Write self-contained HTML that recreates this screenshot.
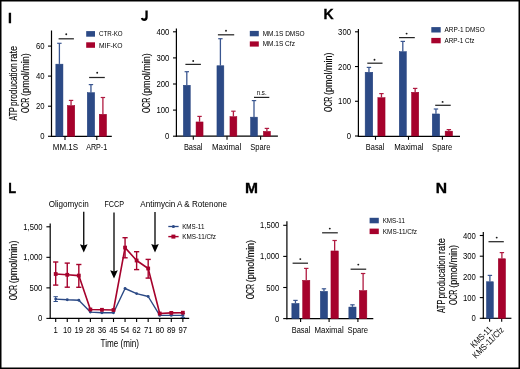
<!DOCTYPE html>
<html><head><meta charset="utf-8"><style>
html,body{margin:0;padding:0;background:#fff;}
svg{display:block;font-family:"Liberation Sans", sans-serif;will-change:transform;}

</style></head><body>
<svg width="520" height="369" viewBox="0 0 520 369">
<rect width="520" height="369" fill="#fff"/>
<text x="8.1" y="23" font-size="14" stroke="#000" stroke-width="0.3" fill="#000" font-weight="bold">I</text>
<line x1="51.5" y1="30.5" x2="51.5" y2="136.9" stroke="#000" stroke-width="1.2"/>
<line x1="48" y1="136.3" x2="51.5" y2="136.3" stroke="#000" stroke-width="1.1"/>
<text x="44.6" y="139.3" font-size="8.8" text-anchor="end" textLength="4.3" lengthAdjust="spacingAndGlyphs">0</text>
<line x1="48" y1="106.2" x2="51.5" y2="106.2" stroke="#000" stroke-width="1.1"/>
<text x="44.6" y="109.2" font-size="8.8" text-anchor="end" textLength="8.6" lengthAdjust="spacingAndGlyphs">20</text>
<line x1="48" y1="76.1" x2="51.5" y2="76.1" stroke="#000" stroke-width="1.1"/>
<text x="44.6" y="79.1" font-size="8.8" text-anchor="end" textLength="8.6" lengthAdjust="spacingAndGlyphs">40</text>
<line x1="48" y1="46.1" x2="51.5" y2="46.1" stroke="#000" stroke-width="1.1"/>
<text x="44.6" y="49.1" font-size="8.8" text-anchor="end" textLength="8.6" lengthAdjust="spacingAndGlyphs">60</text>
<line x1="50.9" y1="136.3" x2="111.8" y2="136.3" stroke="#000" stroke-width="1.2"/>
<line x1="65" y1="136.3" x2="65" y2="140" stroke="#000" stroke-width="1.1"/>
<line x1="96.8" y1="136.3" x2="96.8" y2="140" stroke="#000" stroke-width="1.1"/>
<text x="65.4" y="150.1" font-size="8.7" text-anchor="middle" textLength="25.2" lengthAdjust="spacingAndGlyphs">MM.1S</text>
<text x="96.7" y="150.1" font-size="8.7" text-anchor="middle" textLength="21" lengthAdjust="spacingAndGlyphs">ARP-1</text>
<line x1="59.4" y1="43.3" x2="59.4" y2="63.9" stroke="#3a5690" stroke-width="1.3"/>
<line x1="57.2" y1="43.3" x2="61.6" y2="43.3" stroke="#3a5690" stroke-width="1.2"/>
<rect x="55.85" y="64.15" width="7.1" height="72.15" fill="#2c4a86" stroke="#213f7c" stroke-width="0.5"/>
<line x1="71.05" y1="100.4" x2="71.05" y2="105.3" stroke="#b01a40" stroke-width="1.3"/>
<line x1="68.85" y1="100.4" x2="73.25" y2="100.4" stroke="#b01a40" stroke-width="1.2"/>
<rect x="67.35" y="105.55" width="7.4" height="30.75" fill="#a6022c" stroke="#9a0028" stroke-width="0.5"/>
<line x1="90.95" y1="84.6" x2="90.95" y2="92.4" stroke="#3a5690" stroke-width="1.3"/>
<line x1="88.75" y1="84.6" x2="93.15" y2="84.6" stroke="#3a5690" stroke-width="1.2"/>
<rect x="87.25" y="92.65" width="7.4" height="43.65" fill="#2c4a86" stroke="#213f7c" stroke-width="0.5"/>
<line x1="102.9" y1="97.5" x2="102.9" y2="114" stroke="#b01a40" stroke-width="1.3"/>
<line x1="100.7" y1="97.5" x2="105.1" y2="97.5" stroke="#b01a40" stroke-width="1.2"/>
<rect x="99.25" y="114.25" width="7.3" height="22.05" fill="#a6022c" stroke="#9a0028" stroke-width="0.5"/>
<line x1="58.6" y1="38.8" x2="73.9" y2="38.8" stroke="#262626" stroke-width="1.25"/>
<circle cx="66.25" cy="34.2" r="0.95" fill="#1a1a1a"/>
<line x1="89.1" y1="77.5" x2="104.8" y2="77.5" stroke="#262626" stroke-width="1.25"/>
<circle cx="97.2" cy="72.7" r="0.95" fill="#1a1a1a"/>
<rect x="86.2" y="31.1" width="8.8" height="5.6" fill="#2c4a86"/>
<rect x="86.2" y="42.3" width="8.8" height="5.5" fill="#a6022c"/>
<text x="99" y="36.2" font-size="6.9" textLength="23.6" lengthAdjust="spacingAndGlyphs">CTR-KO</text>
<text x="99" y="47.6" font-size="6.9" textLength="23.6" lengthAdjust="spacingAndGlyphs">MIF-KO</text>
<text x="17" y="120.5" font-size="10.4" stroke="#1e1e1e" stroke-width="0.15" textLength="13.2" lengthAdjust="spacingAndGlyphs" transform="rotate(-90 17 120.5)">ATP</text>
<text x="17" y="106" font-size="10.4" stroke="#1e1e1e" stroke-width="0.15" textLength="42.8" lengthAdjust="spacingAndGlyphs" transform="rotate(-90 17 106)">producation</text>
<text x="17" y="61.8" font-size="10.4" stroke="#1e1e1e" stroke-width="0.15" textLength="16" lengthAdjust="spacingAndGlyphs" transform="rotate(-90 17 61.8)">rate</text>
<text x="29.4" y="113" font-size="10.4" stroke="#1e1e1e" stroke-width="0.15" textLength="15.3" lengthAdjust="spacingAndGlyphs" transform="rotate(-90 29.4 113)">OCR</text>
<text x="29.4" y="95.9" font-size="10.4" stroke="#1e1e1e" stroke-width="0.15" textLength="42.8" lengthAdjust="spacingAndGlyphs" transform="rotate(-90 29.4 95.9)">(pmol/min)</text>
<path d="M146.55,10.6 V17.0 Q146.55,19.75 144.0,19.75 Q142.3,19.75 141.9,18.0" fill="none" stroke="#000" stroke-width="2.3"/>
<line x1="176.4" y1="28.6" x2="176.4" y2="136.8" stroke="#000" stroke-width="1.2"/>
<line x1="173" y1="136.2" x2="176.4" y2="136.2" stroke="#000" stroke-width="1.1"/>
<text x="169.4" y="139.2" font-size="8.8" text-anchor="end" textLength="4.3" lengthAdjust="spacingAndGlyphs">0</text>
<line x1="173" y1="110.1" x2="176.4" y2="110.1" stroke="#000" stroke-width="1.1"/>
<text x="169.4" y="113.1" font-size="8.8" text-anchor="end" textLength="12.9" lengthAdjust="spacingAndGlyphs">100</text>
<line x1="173" y1="84" x2="176.4" y2="84" stroke="#000" stroke-width="1.1"/>
<text x="169.4" y="87" font-size="8.8" text-anchor="end" textLength="12.9" lengthAdjust="spacingAndGlyphs">200</text>
<line x1="173" y1="57.9" x2="176.4" y2="57.9" stroke="#000" stroke-width="1.1"/>
<text x="169.4" y="60.9" font-size="8.8" text-anchor="end" textLength="12.9" lengthAdjust="spacingAndGlyphs">300</text>
<line x1="173" y1="31.8" x2="176.4" y2="31.8" stroke="#000" stroke-width="1.1"/>
<text x="169.4" y="34.8" font-size="8.8" text-anchor="end" textLength="12.9" lengthAdjust="spacingAndGlyphs">400</text>
<line x1="175.8" y1="136.2" x2="277.9" y2="136.2" stroke="#000" stroke-width="1.2"/>
<line x1="193.3" y1="136.2" x2="193.3" y2="139.8" stroke="#000" stroke-width="1.1"/>
<line x1="227" y1="136.2" x2="227" y2="139.8" stroke="#000" stroke-width="1.1"/>
<line x1="260.6" y1="136.2" x2="260.6" y2="139.8" stroke="#000" stroke-width="1.1"/>
<text x="193.2" y="150" font-size="8.7" text-anchor="middle" textLength="18.6" lengthAdjust="spacingAndGlyphs">Basal</text>
<text x="226.6" y="150" font-size="8.7" text-anchor="middle" textLength="29.2" lengthAdjust="spacingAndGlyphs">Maximal</text>
<text x="260.4" y="150" font-size="8.7" text-anchor="middle" textLength="20.2" lengthAdjust="spacingAndGlyphs">Spare</text>
<line x1="186.8" y1="71.7" x2="186.8" y2="85" stroke="#3a5690" stroke-width="1.3"/>
<line x1="184.6" y1="71.7" x2="189" y2="71.7" stroke="#3a5690" stroke-width="1.2"/>
<rect x="183.35" y="85.25" width="6.9" height="50.95" fill="#2c4a86" stroke="#213f7c" stroke-width="0.5"/>
<line x1="199.55" y1="116.4" x2="199.55" y2="121.7" stroke="#b01a40" stroke-width="1.3"/>
<line x1="197.35" y1="116.4" x2="201.75" y2="116.4" stroke="#b01a40" stroke-width="1.2"/>
<rect x="196.05" y="121.95" width="7" height="14.25" fill="#a6022c" stroke="#9a0028" stroke-width="0.5"/>
<line x1="220.4" y1="38.7" x2="220.4" y2="65.5" stroke="#3a5690" stroke-width="1.3"/>
<line x1="218.2" y1="38.7" x2="222.6" y2="38.7" stroke="#3a5690" stroke-width="1.2"/>
<rect x="216.95" y="65.75" width="6.9" height="70.45" fill="#2c4a86" stroke="#213f7c" stroke-width="0.5"/>
<line x1="233.4" y1="111.2" x2="233.4" y2="116.4" stroke="#b01a40" stroke-width="1.3"/>
<line x1="231.2" y1="111.2" x2="235.6" y2="111.2" stroke="#b01a40" stroke-width="1.2"/>
<rect x="229.95" y="116.65" width="6.9" height="19.55" fill="#a6022c" stroke="#9a0028" stroke-width="0.5"/>
<line x1="254" y1="100.6" x2="254" y2="116.9" stroke="#3a5690" stroke-width="1.3"/>
<line x1="251.8" y1="100.6" x2="256.2" y2="100.6" stroke="#3a5690" stroke-width="1.2"/>
<rect x="250.55" y="117.15" width="6.9" height="19.05" fill="#2c4a86" stroke="#213f7c" stroke-width="0.5"/>
<line x1="266.9" y1="128.4" x2="266.9" y2="131.1" stroke="#b01a40" stroke-width="1.3"/>
<line x1="264.7" y1="128.4" x2="269.1" y2="128.4" stroke="#b01a40" stroke-width="1.2"/>
<rect x="263.35" y="131.35" width="7.1" height="4.85" fill="#a6022c" stroke="#9a0028" stroke-width="0.5"/>
<line x1="185.4" y1="64.4" x2="200.9" y2="64.4" stroke="#262626" stroke-width="1.25"/>
<circle cx="193.2" cy="61" r="0.95" fill="#1a1a1a"/>
<line x1="217.9" y1="34.8" x2="234.2" y2="34.8" stroke="#262626" stroke-width="1.25"/>
<circle cx="226" cy="30.8" r="0.95" fill="#1a1a1a"/>
<line x1="254" y1="97.4" x2="269.3" y2="97.4" stroke="#222" stroke-width="1.2"/>
<text x="261.7" y="94.6" font-size="7.2" text-anchor="middle" textLength="9.8" lengthAdjust="spacingAndGlyphs">n.s.</text>
<rect x="249.8" y="30.9" width="9" height="5.4" fill="#2c4a86"/>
<rect x="249.8" y="41.4" width="9" height="5.2" fill="#a6022c"/>
<text x="262.7" y="35.7" font-size="6.9" textLength="42" lengthAdjust="spacingAndGlyphs">MM.1S DMSO</text>
<text x="262.7" y="46.3" font-size="6.9" textLength="32.2" lengthAdjust="spacingAndGlyphs">MM.1S Cfz</text>
<text x="150.3" y="113" font-size="10.4" stroke="#1e1e1e" stroke-width="0.15" textLength="15.28" lengthAdjust="spacingAndGlyphs" transform="rotate(-90 150.3 113)">OCR</text>
<text x="150.3" y="95.93" font-size="10.4" stroke="#1e1e1e" stroke-width="0.15" textLength="42.73" lengthAdjust="spacingAndGlyphs" transform="rotate(-90 150.3 95.93)">(pmol/min)</text>
<text x="323.6" y="18.6" font-size="14" stroke="#000" stroke-width="0.35" fill="#000" font-weight="bold">K</text>
<line x1="358.4" y1="29" x2="358.4" y2="136.6" stroke="#000" stroke-width="1.2"/>
<line x1="355" y1="136" x2="358.4" y2="136" stroke="#000" stroke-width="1.1"/>
<text x="351" y="139" font-size="8.8" text-anchor="end" textLength="4.3" lengthAdjust="spacingAndGlyphs">0</text>
<line x1="355" y1="101.27" x2="358.4" y2="101.27" stroke="#000" stroke-width="1.1"/>
<text x="351" y="104.27" font-size="8.8" text-anchor="end" textLength="12.9" lengthAdjust="spacingAndGlyphs">100</text>
<line x1="355" y1="66.54" x2="358.4" y2="66.54" stroke="#000" stroke-width="1.1"/>
<text x="351" y="69.54" font-size="8.8" text-anchor="end" textLength="12.9" lengthAdjust="spacingAndGlyphs">200</text>
<line x1="355" y1="31.81" x2="358.4" y2="31.81" stroke="#000" stroke-width="1.1"/>
<text x="351" y="34.81" font-size="8.8" text-anchor="end" textLength="12.9" lengthAdjust="spacingAndGlyphs">300</text>
<line x1="357.8" y1="136.3" x2="460" y2="136.3" stroke="#000" stroke-width="1.2"/>
<line x1="375.5" y1="136" x2="375.5" y2="139.8" stroke="#000" stroke-width="1.1"/>
<line x1="408.5" y1="136" x2="408.5" y2="139.8" stroke="#000" stroke-width="1.1"/>
<line x1="442.4" y1="136" x2="442.4" y2="139.8" stroke="#000" stroke-width="1.1"/>
<text x="375.1" y="150" font-size="8.7" text-anchor="middle" textLength="18.6" lengthAdjust="spacingAndGlyphs">Basal</text>
<text x="408.9" y="150" font-size="8.7" text-anchor="middle" textLength="29.2" lengthAdjust="spacingAndGlyphs">Maximal</text>
<text x="442.2" y="150" font-size="8.7" text-anchor="middle" textLength="20.2" lengthAdjust="spacingAndGlyphs">Spare</text>
<line x1="368.95" y1="67.4" x2="368.95" y2="72" stroke="#3a5690" stroke-width="1.3"/>
<line x1="366.75" y1="67.4" x2="371.15" y2="67.4" stroke="#3a5690" stroke-width="1.2"/>
<rect x="365.15" y="72.25" width="7.6" height="63.75" fill="#2c4a86" stroke="#213f7c" stroke-width="0.5"/>
<line x1="381.45" y1="93.6" x2="381.45" y2="97.4" stroke="#b01a40" stroke-width="1.3"/>
<line x1="379.25" y1="93.6" x2="383.65" y2="93.6" stroke="#b01a40" stroke-width="1.2"/>
<rect x="377.85" y="97.65" width="7.2" height="38.35" fill="#a6022c" stroke="#9a0028" stroke-width="0.5"/>
<line x1="402.8" y1="41.4" x2="402.8" y2="51.4" stroke="#3a5690" stroke-width="1.3"/>
<line x1="400.6" y1="41.4" x2="405" y2="41.4" stroke="#3a5690" stroke-width="1.2"/>
<rect x="399.25" y="51.65" width="7.1" height="84.35" fill="#2c4a86" stroke="#213f7c" stroke-width="0.5"/>
<line x1="415.15" y1="88.4" x2="415.15" y2="92" stroke="#b01a40" stroke-width="1.3"/>
<line x1="412.95" y1="88.4" x2="417.35" y2="88.4" stroke="#b01a40" stroke-width="1.2"/>
<rect x="411.55" y="92.25" width="7.2" height="43.75" fill="#a6022c" stroke="#9a0028" stroke-width="0.5"/>
<line x1="435.95" y1="109" x2="435.95" y2="113.7" stroke="#3a5690" stroke-width="1.3"/>
<line x1="433.75" y1="109" x2="438.15" y2="109" stroke="#3a5690" stroke-width="1.2"/>
<rect x="432.25" y="113.95" width="7.4" height="22.05" fill="#2c4a86" stroke="#213f7c" stroke-width="0.5"/>
<line x1="448.85" y1="129.6" x2="448.85" y2="130.9" stroke="#b01a40" stroke-width="1.3"/>
<line x1="446.65" y1="129.6" x2="451.05" y2="129.6" stroke="#b01a40" stroke-width="1.2"/>
<rect x="445.15" y="131.15" width="7.4" height="4.85" fill="#a6022c" stroke="#9a0028" stroke-width="0.5"/>
<line x1="367.3" y1="63.2" x2="382.5" y2="63.2" stroke="#262626" stroke-width="1.25"/>
<circle cx="374.5" cy="59.8" r="0.95" fill="#1a1a1a"/>
<line x1="399" y1="37.6" x2="414.8" y2="37.6" stroke="#262626" stroke-width="1.25"/>
<circle cx="406.6" cy="33.6" r="0.95" fill="#1a1a1a"/>
<line x1="435.2" y1="105.3" x2="450.7" y2="105.3" stroke="#262626" stroke-width="1.25"/>
<circle cx="442.6" cy="101.9" r="0.95" fill="#1a1a1a"/>
<rect x="431.3" y="27.1" width="9.4" height="5.4" fill="#2c4a86"/>
<rect x="431.3" y="37.9" width="9.4" height="5.4" fill="#a6022c"/>
<text x="444.5" y="32.1" font-size="6.9" textLength="40.2" lengthAdjust="spacingAndGlyphs">ARP-1 DMSO</text>
<text x="444.5" y="42.9" font-size="6.9" textLength="30" lengthAdjust="spacingAndGlyphs">ARP-1 Cfz</text>
<text x="332.3" y="111.9" font-size="10.4" stroke="#1e1e1e" stroke-width="0.15" textLength="15.15" lengthAdjust="spacingAndGlyphs" transform="rotate(-90 332.3 111.9)">OCR</text>
<text x="332.3" y="94.97" font-size="10.4" stroke="#1e1e1e" stroke-width="0.15" textLength="42.37" lengthAdjust="spacingAndGlyphs" transform="rotate(-90 332.3 94.97)">(pmol/min)</text>
<text x="8.2" y="192.9" font-size="14" stroke="#000" stroke-width="0.3" fill="#000" font-weight="bold" textLength="7.9" lengthAdjust="spacingAndGlyphs">L</text>
<line x1="50.2" y1="223.4" x2="50.2" y2="319" stroke="#000" stroke-width="1.2"/>
<line x1="46.4" y1="318.4" x2="50.2" y2="318.4" stroke="#000" stroke-width="1.1"/>
<text x="42.4" y="321.4" font-size="8.8" text-anchor="end" textLength="4.3" lengthAdjust="spacingAndGlyphs">0</text>
<line x1="46.4" y1="287.87" x2="50.2" y2="287.87" stroke="#000" stroke-width="1.1"/>
<text x="42.4" y="290.87" font-size="8.8" text-anchor="end" textLength="12.9" lengthAdjust="spacingAndGlyphs">500</text>
<line x1="46.4" y1="257.33" x2="50.2" y2="257.33" stroke="#000" stroke-width="1.1"/>
<text x="42.4" y="260.33" font-size="8.8" text-anchor="end" textLength="19.1" lengthAdjust="spacingAndGlyphs">1,000</text>
<line x1="46.4" y1="226.8" x2="50.2" y2="226.8" stroke="#000" stroke-width="1.1"/>
<text x="42.4" y="229.8" font-size="8.8" text-anchor="end" textLength="19.1" lengthAdjust="spacingAndGlyphs">1,500</text>
<line x1="49.6" y1="318.4" x2="189.2" y2="318.4" stroke="#000" stroke-width="1.2"/>
<line x1="55.7" y1="318.4" x2="55.7" y2="322" stroke="#000" stroke-width="1.1"/>
<text x="55.7" y="332.8" font-size="8.8" text-anchor="middle" textLength="4.3" lengthAdjust="spacingAndGlyphs">1</text>
<line x1="67.26" y1="318.4" x2="67.26" y2="322" stroke="#000" stroke-width="1.1"/>
<text x="67.26" y="332.8" font-size="8.8" text-anchor="middle" textLength="8.6" lengthAdjust="spacingAndGlyphs">10</text>
<line x1="78.82" y1="318.4" x2="78.82" y2="322" stroke="#000" stroke-width="1.1"/>
<text x="78.82" y="332.8" font-size="8.8" text-anchor="middle" textLength="8.6" lengthAdjust="spacingAndGlyphs">19</text>
<line x1="90.38" y1="318.4" x2="90.38" y2="322" stroke="#000" stroke-width="1.1"/>
<text x="90.38" y="332.8" font-size="8.8" text-anchor="middle" textLength="8.6" lengthAdjust="spacingAndGlyphs">28</text>
<line x1="101.94" y1="318.4" x2="101.94" y2="322" stroke="#000" stroke-width="1.1"/>
<text x="101.94" y="332.8" font-size="8.8" text-anchor="middle" textLength="8.6" lengthAdjust="spacingAndGlyphs">36</text>
<line x1="113.5" y1="318.4" x2="113.5" y2="322" stroke="#000" stroke-width="1.1"/>
<text x="113.5" y="332.8" font-size="8.8" text-anchor="middle" textLength="8.6" lengthAdjust="spacingAndGlyphs">45</text>
<line x1="125.06" y1="318.4" x2="125.06" y2="322" stroke="#000" stroke-width="1.1"/>
<text x="125.06" y="332.8" font-size="8.8" text-anchor="middle" textLength="8.6" lengthAdjust="spacingAndGlyphs">54</text>
<line x1="136.62" y1="318.4" x2="136.62" y2="322" stroke="#000" stroke-width="1.1"/>
<text x="136.62" y="332.8" font-size="8.8" text-anchor="middle" textLength="8.6" lengthAdjust="spacingAndGlyphs">62</text>
<line x1="148.18" y1="318.4" x2="148.18" y2="322" stroke="#000" stroke-width="1.1"/>
<text x="148.18" y="332.8" font-size="8.8" text-anchor="middle" textLength="8.6" lengthAdjust="spacingAndGlyphs">71</text>
<line x1="159.74" y1="318.4" x2="159.74" y2="322" stroke="#000" stroke-width="1.1"/>
<text x="159.74" y="332.8" font-size="8.8" text-anchor="middle" textLength="8.6" lengthAdjust="spacingAndGlyphs">80</text>
<line x1="171.3" y1="318.4" x2="171.3" y2="322" stroke="#000" stroke-width="1.1"/>
<text x="171.3" y="332.8" font-size="8.8" text-anchor="middle" textLength="8.6" lengthAdjust="spacingAndGlyphs">89</text>
<line x1="182.86" y1="318.4" x2="182.86" y2="322" stroke="#000" stroke-width="1.1"/>
<text x="182.86" y="332.8" font-size="8.8" text-anchor="middle" textLength="8.6" lengthAdjust="spacingAndGlyphs">97</text>
<text x="119.8" y="346.9" font-size="10.4" text-anchor="middle" textLength="38.4" lengthAdjust="spacingAndGlyphs">Time (min)</text>
<text x="17.4" y="300.3" font-size="10.4" stroke="#1e1e1e" stroke-width="0.15" textLength="15.25" lengthAdjust="spacingAndGlyphs" transform="rotate(-90 17.4 300.3)">OCR</text>
<text x="17.4" y="283.26" font-size="10.4" stroke="#1e1e1e" stroke-width="0.15" textLength="42.66" lengthAdjust="spacingAndGlyphs" transform="rotate(-90 17.4 283.26)">(pmol/min)</text>
<polyline points="55.7,299.1 67.26,299.8 78.82,300.2 90.38,312.1 101.94,312.8 113.5,312.7 125.06,288.5 136.62,293.6 148.18,296.5 159.74,315.4 171.3,315.4 182.86,315.4" fill="none" stroke="#2c4a86" stroke-width="1.4" stroke-linejoin="round"/>
<line x1="55.7" y1="296.7" x2="55.7" y2="301.5" stroke="#2c4a86" stroke-width="1.0"/>
<line x1="53.5" y1="296.7" x2="57.9" y2="296.7" stroke="#2c4a86" stroke-width="1.0"/>
<line x1="53.5" y1="301.5" x2="57.9" y2="301.5" stroke="#2c4a86" stroke-width="1.0"/>
<line x1="182.86" y1="313.4" x2="182.86" y2="317.4" stroke="#2c4a86" stroke-width="1.0"/>
<line x1="180.66" y1="313.4" x2="185.06" y2="313.4" stroke="#2c4a86" stroke-width="1.0"/>
<line x1="180.66" y1="317.4" x2="185.06" y2="317.4" stroke="#2c4a86" stroke-width="1.0"/>
<circle cx="55.7" cy="299.1" r="1.45" fill="#2c4a86"/>
<circle cx="67.26" cy="299.8" r="1.45" fill="#2c4a86"/>
<circle cx="78.82" cy="300.2" r="1.45" fill="#2c4a86"/>
<circle cx="90.38" cy="312.1" r="1.45" fill="#2c4a86"/>
<circle cx="101.94" cy="312.8" r="1.45" fill="#2c4a86"/>
<circle cx="113.5" cy="312.7" r="1.45" fill="#2c4a86"/>
<circle cx="125.06" cy="288.5" r="1.45" fill="#2c4a86"/>
<circle cx="136.62" cy="293.6" r="1.45" fill="#2c4a86"/>
<circle cx="148.18" cy="296.5" r="1.45" fill="#2c4a86"/>
<circle cx="159.74" cy="315.4" r="1.45" fill="#2c4a86"/>
<circle cx="171.3" cy="315.4" r="1.45" fill="#2c4a86"/>
<circle cx="182.86" cy="315.4" r="1.45" fill="#2c4a86"/>
<polyline points="55.7,274 67.26,274.8 78.82,275.6 90.38,309.5 101.94,309.8 113.5,310 125.06,247.6 136.62,260.5 148.18,268.5 159.74,313.5 171.3,312.9 182.86,312.7" fill="none" stroke="#a6022c" stroke-width="1.6" stroke-linejoin="round"/>
<line x1="55.7" y1="262" x2="55.7" y2="285.1" stroke="#a6022c" stroke-width="1.4"/>
<line x1="53.1" y1="262" x2="58.3" y2="262" stroke="#a6022c" stroke-width="1.4"/>
<line x1="53.1" y1="285.1" x2="58.3" y2="285.1" stroke="#a6022c" stroke-width="1.4"/>
<line x1="67.26" y1="263.1" x2="67.26" y2="287.2" stroke="#a6022c" stroke-width="1.4"/>
<line x1="64.66" y1="263.1" x2="69.86" y2="263.1" stroke="#a6022c" stroke-width="1.4"/>
<line x1="64.66" y1="287.2" x2="69.86" y2="287.2" stroke="#a6022c" stroke-width="1.4"/>
<line x1="78.82" y1="264.5" x2="78.82" y2="287.3" stroke="#a6022c" stroke-width="1.4"/>
<line x1="76.22" y1="264.5" x2="81.42" y2="264.5" stroke="#a6022c" stroke-width="1.4"/>
<line x1="76.22" y1="287.3" x2="81.42" y2="287.3" stroke="#a6022c" stroke-width="1.4"/>
<line x1="125.06" y1="237.7" x2="125.06" y2="257.8" stroke="#a6022c" stroke-width="1.4"/>
<line x1="122.46" y1="237.7" x2="127.66" y2="237.7" stroke="#a6022c" stroke-width="1.4"/>
<line x1="122.46" y1="257.8" x2="127.66" y2="257.8" stroke="#a6022c" stroke-width="1.4"/>
<line x1="136.62" y1="251.7" x2="136.62" y2="269.6" stroke="#a6022c" stroke-width="1.4"/>
<line x1="134.02" y1="251.7" x2="139.22" y2="251.7" stroke="#a6022c" stroke-width="1.4"/>
<line x1="134.02" y1="269.6" x2="139.22" y2="269.6" stroke="#a6022c" stroke-width="1.4"/>
<line x1="148.18" y1="259.4" x2="148.18" y2="278.1" stroke="#a6022c" stroke-width="1.4"/>
<line x1="145.58" y1="259.4" x2="150.78" y2="259.4" stroke="#a6022c" stroke-width="1.4"/>
<line x1="145.58" y1="278.1" x2="150.78" y2="278.1" stroke="#a6022c" stroke-width="1.4"/>
<rect x="53.8" y="272.1" width="3.8" height="3.8" fill="#a6022c"/>
<rect x="65.36" y="272.9" width="3.8" height="3.8" fill="#a6022c"/>
<rect x="76.92" y="273.7" width="3.8" height="3.8" fill="#a6022c"/>
<rect x="88.48" y="307.6" width="3.8" height="3.8" fill="#a6022c"/>
<rect x="100.04" y="307.9" width="3.8" height="3.8" fill="#a6022c"/>
<rect x="111.6" y="308.1" width="3.8" height="3.8" fill="#a6022c"/>
<rect x="123.16" y="245.7" width="3.8" height="3.8" fill="#a6022c"/>
<rect x="134.72" y="258.6" width="3.8" height="3.8" fill="#a6022c"/>
<rect x="146.28" y="266.6" width="3.8" height="3.8" fill="#a6022c"/>
<rect x="157.84" y="311.6" width="3.8" height="3.8" fill="#a6022c"/>
<rect x="169.4" y="311" width="3.8" height="3.8" fill="#a6022c"/>
<rect x="180.96" y="310.8" width="3.8" height="3.8" fill="#a6022c"/>
<line x1="83.75" y1="211.8" x2="83.75" y2="246.6" stroke="#000" stroke-width="1.3"/>
<path d="M79.95,244.2 L83.75,245.5 L87.55,244.2 L83.75,252.6 Z" fill="#000"/>
<line x1="114" y1="212.6" x2="114" y2="272.6" stroke="#000" stroke-width="1.3"/>
<path d="M110.2,270.2 L114,271.5 L117.8,270.2 L114,278.6 Z" fill="#000"/>
<line x1="155" y1="211.9" x2="155" y2="246.4" stroke="#000" stroke-width="1.3"/>
<path d="M151.2,244 L155,245.3 L158.8,244 L155,252.4 Z" fill="#000"/>
<text x="68.7" y="206.8" font-size="9.0" text-anchor="middle" textLength="40" lengthAdjust="spacingAndGlyphs">Oligomycin</text>
<text x="114.2" y="206.8" font-size="9.0" text-anchor="middle" textLength="19.6" lengthAdjust="spacingAndGlyphs">FCCP</text>
<text x="183.6" y="206.8" font-size="9.0" text-anchor="middle" textLength="86.7" lengthAdjust="spacingAndGlyphs">Antimycin A &amp; Rotenone</text>
<line x1="168.3" y1="226.5" x2="178.6" y2="226.5" stroke="#2c4a86" stroke-width="1.3"/>
<circle cx="173.4" cy="226.5" r="1.6" fill="#2c4a86"/>
<line x1="168.3" y1="236.6" x2="178.6" y2="236.6" stroke="#a6022c" stroke-width="1.4"/>
<rect x="171.4" y="234.6" width="4" height="4" fill="#a6022c"/>
<text x="182.2" y="228.8" font-size="6.7" textLength="22.2" lengthAdjust="spacingAndGlyphs">KMS-11</text>
<text x="182.2" y="239" font-size="6.7" textLength="33.8" lengthAdjust="spacingAndGlyphs">KMS-11/Cfz</text>
<text x="245" y="192.9" font-size="14" stroke="#000" stroke-width="0.3" fill="#000" font-weight="bold" textLength="13" lengthAdjust="spacingAndGlyphs">M</text>
<line x1="286.9" y1="221.2" x2="286.9" y2="319.2" stroke="#000" stroke-width="1.2"/>
<line x1="283.2" y1="318.6" x2="286.9" y2="318.6" stroke="#000" stroke-width="1.1"/>
<text x="279.2" y="321.6" font-size="8.8" text-anchor="end" textLength="4.3" lengthAdjust="spacingAndGlyphs">0</text>
<line x1="283.2" y1="287.5" x2="286.9" y2="287.5" stroke="#000" stroke-width="1.1"/>
<text x="279.2" y="290.5" font-size="8.8" text-anchor="end" textLength="12.9" lengthAdjust="spacingAndGlyphs">500</text>
<line x1="283.2" y1="256.4" x2="286.9" y2="256.4" stroke="#000" stroke-width="1.1"/>
<text x="279.2" y="259.4" font-size="8.8" text-anchor="end" textLength="19.1" lengthAdjust="spacingAndGlyphs">1,000</text>
<line x1="283.2" y1="225.3" x2="286.9" y2="225.3" stroke="#000" stroke-width="1.1"/>
<text x="279.2" y="228.3" font-size="8.8" text-anchor="end" textLength="19.1" lengthAdjust="spacingAndGlyphs">1,500</text>
<line x1="286.3" y1="318.6" x2="373.3" y2="318.6" stroke="#000" stroke-width="1.2"/>
<line x1="300.6" y1="318.6" x2="300.6" y2="322" stroke="#000" stroke-width="1.1"/>
<line x1="329.1" y1="318.6" x2="329.1" y2="322" stroke="#000" stroke-width="1.1"/>
<line x1="357.9" y1="318.6" x2="357.9" y2="322" stroke="#000" stroke-width="1.1"/>
<text x="301" y="333.4" font-size="8.7" text-anchor="middle" textLength="18.6" lengthAdjust="spacingAndGlyphs">Basal</text>
<text x="329.1" y="333.4" font-size="8.7" text-anchor="middle" textLength="29.2" lengthAdjust="spacingAndGlyphs">Maximal</text>
<text x="357.8" y="333.4" font-size="8.7" text-anchor="middle" textLength="20.4" lengthAdjust="spacingAndGlyphs">Spare</text>
<line x1="295.45" y1="300.4" x2="295.45" y2="303.2" stroke="#3a5690" stroke-width="1.3"/>
<line x1="293.25" y1="300.4" x2="297.65" y2="300.4" stroke="#3a5690" stroke-width="1.2"/>
<rect x="291.85" y="303.45" width="7.2" height="15.15" fill="#2c4a86" stroke="#213f7c" stroke-width="0.5"/>
<line x1="306.25" y1="268.4" x2="306.25" y2="280.1" stroke="#b01a40" stroke-width="1.3"/>
<line x1="304.05" y1="268.4" x2="308.45" y2="268.4" stroke="#b01a40" stroke-width="1.2"/>
<rect x="302.65" y="280.35" width="7.2" height="38.25" fill="#a6022c" stroke="#9a0028" stroke-width="0.5"/>
<line x1="323.95" y1="288.8" x2="323.95" y2="291.1" stroke="#3a5690" stroke-width="1.3"/>
<line x1="321.75" y1="288.8" x2="326.15" y2="288.8" stroke="#3a5690" stroke-width="1.2"/>
<rect x="320.35" y="291.35" width="7.2" height="27.25" fill="#2c4a86" stroke="#213f7c" stroke-width="0.5"/>
<line x1="334.65" y1="240.5" x2="334.65" y2="250.7" stroke="#b01a40" stroke-width="1.3"/>
<line x1="332.45" y1="240.5" x2="336.85" y2="240.5" stroke="#b01a40" stroke-width="1.2"/>
<rect x="330.95" y="250.95" width="7.4" height="67.65" fill="#a6022c" stroke="#9a0028" stroke-width="0.5"/>
<line x1="352.45" y1="304.8" x2="352.45" y2="306.8" stroke="#3a5690" stroke-width="1.3"/>
<line x1="350.25" y1="304.8" x2="354.65" y2="304.8" stroke="#3a5690" stroke-width="1.2"/>
<rect x="348.85" y="307.05" width="7.2" height="11.55" fill="#2c4a86" stroke="#213f7c" stroke-width="0.5"/>
<line x1="363.1" y1="273.5" x2="363.1" y2="290.3" stroke="#b01a40" stroke-width="1.3"/>
<line x1="360.9" y1="273.5" x2="365.3" y2="273.5" stroke="#b01a40" stroke-width="1.2"/>
<rect x="359.35" y="290.55" width="7.5" height="28.05" fill="#a6022c" stroke="#9a0028" stroke-width="0.5"/>
<line x1="292.6" y1="263.2" x2="308" y2="263.2" stroke="#262626" stroke-width="1.25"/>
<circle cx="300.3" cy="259.1" r="0.95" fill="#1a1a1a"/>
<line x1="322.1" y1="232.8" x2="337.8" y2="232.8" stroke="#262626" stroke-width="1.25"/>
<circle cx="329.8" cy="228.6" r="0.95" fill="#1a1a1a"/>
<line x1="350.6" y1="269.2" x2="366.2" y2="269.2" stroke="#262626" stroke-width="1.25"/>
<circle cx="358.3" cy="264.6" r="0.95" fill="#1a1a1a"/>
<rect x="369.6" y="217.8" width="9.2" height="5.5" fill="#2c4a86"/>
<rect x="369.6" y="228.6" width="9.2" height="5.5" fill="#a6022c"/>
<text x="382.7" y="222.8" font-size="6.4" textLength="22.2" lengthAdjust="spacingAndGlyphs">KMS-11</text>
<text x="382.7" y="233.7" font-size="6.4" textLength="34.4" lengthAdjust="spacingAndGlyphs">KMS-11/Cfz</text>
<text x="254" y="299.2" font-size="10.4" stroke="#1e1e1e" stroke-width="0.15" textLength="15.15" lengthAdjust="spacingAndGlyphs" transform="rotate(-90 254 299.2)">OCR</text>
<text x="254" y="282.27" font-size="10.4" stroke="#1e1e1e" stroke-width="0.15" textLength="42.37" lengthAdjust="spacingAndGlyphs" transform="rotate(-90 254 282.27)">(pmol/min)</text>
<text x="435.8" y="193" font-size="14" stroke="#000" stroke-width="0.35" fill="#000" font-weight="bold" textLength="11.3" lengthAdjust="spacingAndGlyphs">N</text>
<line x1="483.3" y1="232" x2="483.3" y2="318.9" stroke="#000" stroke-width="1.2"/>
<line x1="479.8" y1="318.3" x2="483.3" y2="318.3" stroke="#000" stroke-width="1.1"/>
<text x="475.9" y="321.3" font-size="8.8" text-anchor="end" textLength="4.3" lengthAdjust="spacingAndGlyphs">0</text>
<line x1="479.8" y1="297.6" x2="483.3" y2="297.6" stroke="#000" stroke-width="1.1"/>
<text x="475.9" y="300.6" font-size="8.8" text-anchor="end" textLength="12.9" lengthAdjust="spacingAndGlyphs">100</text>
<line x1="479.8" y1="276.9" x2="483.3" y2="276.9" stroke="#000" stroke-width="1.1"/>
<text x="475.9" y="279.9" font-size="8.8" text-anchor="end" textLength="12.9" lengthAdjust="spacingAndGlyphs">200</text>
<line x1="479.8" y1="256.2" x2="483.3" y2="256.2" stroke="#000" stroke-width="1.1"/>
<text x="475.9" y="259.2" font-size="8.8" text-anchor="end" textLength="12.9" lengthAdjust="spacingAndGlyphs">300</text>
<line x1="479.8" y1="235.5" x2="483.3" y2="235.5" stroke="#000" stroke-width="1.1"/>
<text x="475.9" y="238.5" font-size="8.8" text-anchor="end" textLength="12.9" lengthAdjust="spacingAndGlyphs">400</text>
<line x1="482.7" y1="318.3" x2="511.4" y2="318.3" stroke="#000" stroke-width="1.2"/>
<line x1="489.6" y1="318.3" x2="489.6" y2="321.8" stroke="#000" stroke-width="1.1"/>
<line x1="501.7" y1="318.3" x2="501.7" y2="321.8" stroke="#000" stroke-width="1.1"/>
<line x1="489.9" y1="275.4" x2="489.9" y2="281.5" stroke="#3a5690" stroke-width="1.3"/>
<line x1="487.7" y1="275.4" x2="492.1" y2="275.4" stroke="#3a5690" stroke-width="1.2"/>
<rect x="486.45" y="281.75" width="6.9" height="36.55" fill="#2c4a86" stroke="#213f7c" stroke-width="0.5"/>
<line x1="501.9" y1="252.6" x2="501.9" y2="258.5" stroke="#b01a40" stroke-width="1.3"/>
<line x1="499.7" y1="252.6" x2="504.1" y2="252.6" stroke="#b01a40" stroke-width="1.2"/>
<rect x="498.25" y="258.75" width="7.3" height="59.55" fill="#a6022c" stroke="#9a0028" stroke-width="0.5"/>
<line x1="488.5" y1="241.7" x2="503.8" y2="241.7" stroke="#262626" stroke-width="1.25"/>
<circle cx="496.7" cy="237.6" r="0.95" fill="#1a1a1a"/>
<text x="445" y="313.1" font-size="10.4" stroke="#1e1e1e" stroke-width="0.15" textLength="13.27" lengthAdjust="spacingAndGlyphs" transform="rotate(-90 445 313.1)">ATP</text>
<text x="445" y="298.52" font-size="10.4" stroke="#1e1e1e" stroke-width="0.15" textLength="43.03" lengthAdjust="spacingAndGlyphs" transform="rotate(-90 445 298.52)">producation</text>
<text x="445" y="254.08" font-size="10.4" stroke="#1e1e1e" stroke-width="0.15" textLength="16.08" lengthAdjust="spacingAndGlyphs" transform="rotate(-90 445 254.08)">rate</text>
<text x="457.3" y="305" font-size="10.4" stroke="#1e1e1e" stroke-width="0.15" textLength="15.35" lengthAdjust="spacingAndGlyphs" transform="rotate(-90 457.3 305)">OCR</text>
<text x="457.3" y="287.84" font-size="10.4" stroke="#1e1e1e" stroke-width="0.15" textLength="42.94" lengthAdjust="spacingAndGlyphs" transform="rotate(-90 457.3 287.84)">(pmol/min)</text>
<text x="492.6" y="329.9" font-size="8.9" text-anchor="end" textLength="26.4" lengthAdjust="spacingAndGlyphs" transform="rotate(-45 492.6 329.9)">KMS-11</text>
<text x="504.4" y="330.6" font-size="8.9" text-anchor="end" textLength="40" lengthAdjust="spacingAndGlyphs" transform="rotate(-45 504.4 330.6)">KMS-11/Cfz</text>
<rect x="0.75" y="0.75" width="518.5" height="367.5" fill="none" stroke="#000" stroke-width="1.5"/>
</svg></body></html>
